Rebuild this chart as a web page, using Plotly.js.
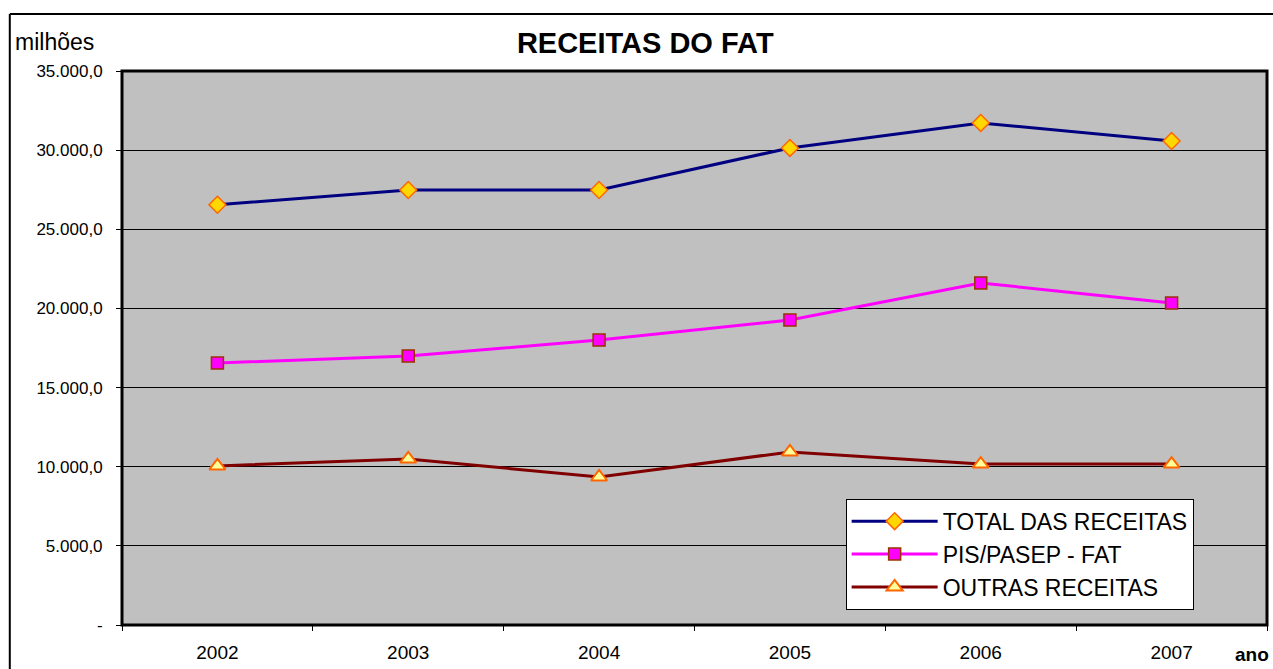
<!DOCTYPE html>
<html>
<head>
<meta charset="utf-8">
<script src="https://cdn.plot.ly/plotly-3.0.1.min.js"></script>
<style>html,body{margin:0;padding:0;background:#fff;}#chart{width:1273px;height:669px;}</style>
</head>
<body>
<div id="chart"></div>
<script>
const years = ['2002','2003','2004','2005','2006','2007'];
const totalReceitas = [26550, 27480, 27480, 30140, 31720, 30580];
const pisPasep = [16550, 17000, 18000, 19270, 21610, 20340];
const outrasReceitas = [10050, 10490, 9350, 10930, 10170, 10170];
const yTickVals = [0, 5000, 10000, 15000, 20000, 25000, 30000, 35000];
const yTickText = ['-', '5.000,0', '10.000,0', '15.000,0', '20.000,0', '25.000,0', '30.000,0', '35.000,0'];

const FONT = 'Liberation Sans, Arial, sans-serif';
const traces = [
  {x: years, y: totalReceitas, name: 'TOTAL DAS RECEITAS', type: 'scatter', mode: 'lines+markers',
   line: {color: '#000080', width: 3},
   marker: {symbol: 'diamond', size: 13, color: '#FFD700', line: {color: '#FF6600', width: 1.5}}},
  {x: years, y: pisPasep, name: 'PIS/PASEP - FAT', type: 'scatter', mode: 'lines+markers',
   line: {color: '#FF00FF', width: 3},
   marker: {symbol: 'square', size: 12, color: '#FF00FF', line: {color: '#993300', width: 1.5}}},
  {x: years, y: outrasReceitas, name: 'OUTRAS RECEITAS', type: 'scatter', mode: 'lines+markers',
   line: {color: '#800000', width: 3},
   marker: {symbol: 'triangle-up', size: 14, color: '#FFFF99', line: {color: '#FF6600', width: 2}}}
];

const layout = {
  width: 1273, height: 669,
  margin: {l: 122, r: 6, t: 71, b: 44},
  paper_bgcolor: '#FFFFFF',
  plot_bgcolor: '#C0C0C0',
  font: {family: FONT, color: '#000', size: 17},
  title: {text: '<b>RECEITAS DO FAT</b>', font: {family: FONT, size: 29, color: '#000'},
          x: 0.457, xref: 'paper', xanchor: 'center', y: 0.936, yref: 'container', yanchor: 'middle'},
  showlegend: true,
  legend: {x: 0.632, y: 0.228, xanchor: 'left', yanchor: 'top', bgcolor: '#FFFFFF',
           bordercolor: '#000', borderwidth: 1, font: {family: FONT, size: 23, color: '#000'},
           tracegroupgap: 0, itemwidth: 86},
  xaxis: {type: 'category', range: [-0.5, 5.5], showgrid: false, zeroline: false,
          ticks: 'outside', tickson: 'boundaries', ticklen: 5, tickcolor: '#000',
          ticklabelstandoff: 14,
          tickfont: {family: FONT, size: 19, color: '#000'}, showline: false, fixedrange: true},
  yaxis: {range: [0, 35000], tickvals: yTickVals, ticktext: yTickText,
          showgrid: true, gridcolor: '#000', gridwidth: 1, zeroline: false,
          ticks: 'outside', ticklen: 5, tickcolor: '#000', ticklabelstandoff: 10,
          tickfont: {family: FONT, size: 17, color: '#000'}, showline: false, fixedrange: true},
  shapes: [
    {type: 'rect', xref: 'paper', yref: 'paper', x0: 0, x1: 1, y0: 0, y1: 1,
     line: {color: '#000', width: 3}, fillcolor: 'rgba(0,0,0,0)'},
    {type: 'line', xref: 'paper', yref: 'paper', x0: -0.098, x1: -0.098, y0: -0.2, y1: 1.103,
     line: {color: '#000', width: 2}},
    {type: 'line', xref: 'paper', yref: 'paper', x0: -0.098, x1: 1.01, y0: 1.103, y1: 1.103,
     line: {color: '#000', width: 2}}
  ],
  annotations: [
    {text: 'milhões', xref: 'paper', yref: 'paper', x: -0.095, y: 1.053, xanchor: 'left', yanchor: 'middle',
     showarrow: false, font: {family: FONT, size: 23, color: '#000'}},
    {text: '<b>ano</b>', xref: 'paper', yref: 'paper', x: 1.0035, y: -0.054, xanchor: 'right', yanchor: 'middle',
     showarrow: false, font: {family: FONT, size: 19, color: '#000'}}
  ]
};

Plotly.newPlot('chart', traces, layout, {displayModeBar: false, staticPlot: true});
</script>
</body>
</html>
